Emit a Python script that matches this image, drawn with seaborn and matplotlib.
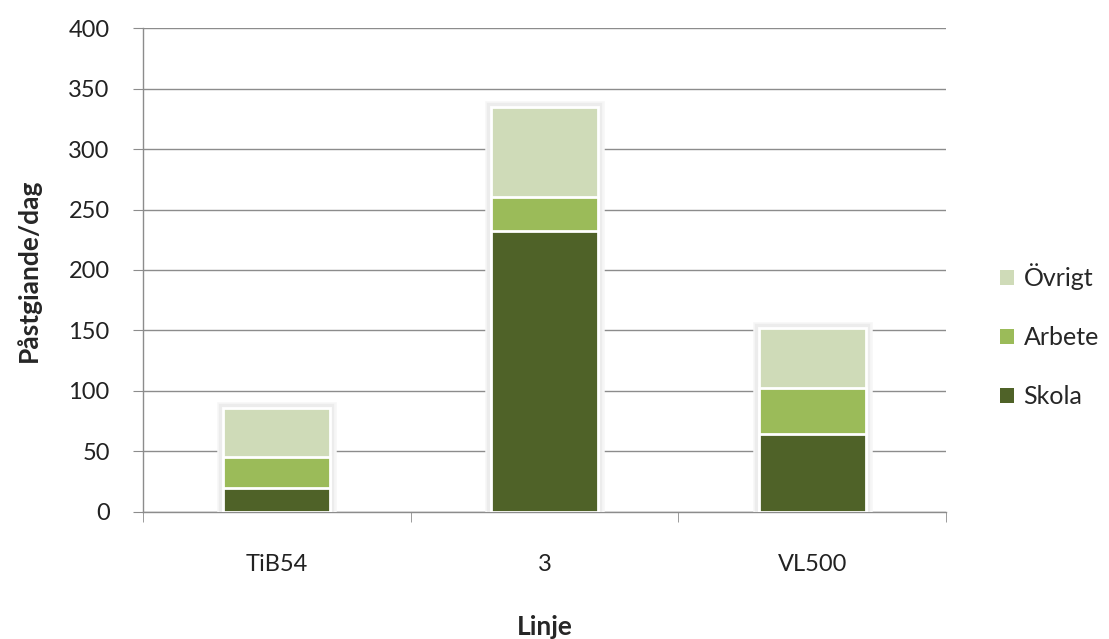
import numpy as np
import pandas as pd
import seaborn as sns
import matplotlib.pyplot as plt
from matplotlib.patches import Patch
import matplotlib.patheffects as pe

linjer = ["TiB54", "3", "VL500"]
skola = [20, 232, 64]
arbete = [25, 28, 38]
ovrigt = [41, 75, 50]

farger = {"Skola": "#4F6228", "Arbete": "#9BBB59", "Övrigt": "#CFDBB8"}

sns.set_style("white")
plt.rcParams["font.family"] = ["Lato", "DejaVu Sans"]

df = pd.DataFrame({"Linje": linjer, "Skola": skola, "Arbete": arbete, "Övrigt": ovrigt})
df["cum_skola"] = df["Skola"]
df["cum_arbete"] = df["Skola"] + df["Arbete"]
df["cum_ovrigt"] = df["cum_arbete"] + df["Övrigt"]

fig = plt.figure(figsize=(11.09, 6.39), dpi=100)
ax = fig.add_axes([0.129, 0.199, 0.724, 0.757])

# stacked bars drawn as overlapping cumulative layers
for i, (col, name) in enumerate([("cum_ovrigt", "Övrigt"), ("cum_arbete", "Arbete"), ("cum_skola", "Skola")]):
    sns.barplot(data=df, x="Linje", y=col, color=farger[name], width=0.40,
                edgecolor="white", linewidth=2, saturation=1, ax=ax, zorder=3)
    if i == 0:
        # soft grey glow around the whole stack
        for p in ax.patches:
            p.set_path_effects([pe.Stroke(linewidth=9, foreground="#F6F6F6"),
                                pe.Stroke(linewidth=6, foreground="#ECECEC"),
                                pe.Normal()])

ax.set_ylim(0, 400)
ax.set_xlim(-0.5, 2.5)
ax.set_yticks(np.arange(0, 401, 50))
ax.yaxis.grid(True, color="#8C8C8C", linewidth=1)
ax.set_axisbelow(True)
for s in ["top", "right"]:
    ax.spines[s].set_visible(False)
for s in ["left", "bottom"]:
    ax.spines[s].set_color("#8C8C8C")
    ax.spines[s].set_linewidth(1)

ax.tick_params(axis="y", which="major", direction="out", length=7, color="#8C8C8C",
               labelsize=17, labelcolor="#222222", pad=17, left=True)
ax.tick_params(axis="x", which="major", length=0, labelsize=17, labelcolor="#222222", pad=30)
ax.set_xticks([-0.5, 0.5, 1.5, 2.5], minor=True)
ax.tick_params(axis="x", which="minor", direction="out", length=7, color="#8C8C8C", bottom=True)

ax.set_ylabel("Påstgiande/dag", fontsize=19, fontweight="bold", labelpad=20)
ax.set_xlabel("Linje", fontsize=19, fontweight="bold", labelpad=29)

handles = [Patch(facecolor=farger[n], edgecolor="none") for n in ["Övrigt", "Arbete", "Skola"]]
ax.legend(handles, ["Övrigt", "Arbete", "Skola"], loc="center left",
          bbox_to_anchor=(1.067, 0.364), frameon=False, fontsize=18,
          borderpad=0, borderaxespad=0,
          handlelength=0.55, handleheight=0.55, handletextpad=0.4, labelspacing=1.45)

fig.savefig("out.png", dpi=100, facecolor="white")
